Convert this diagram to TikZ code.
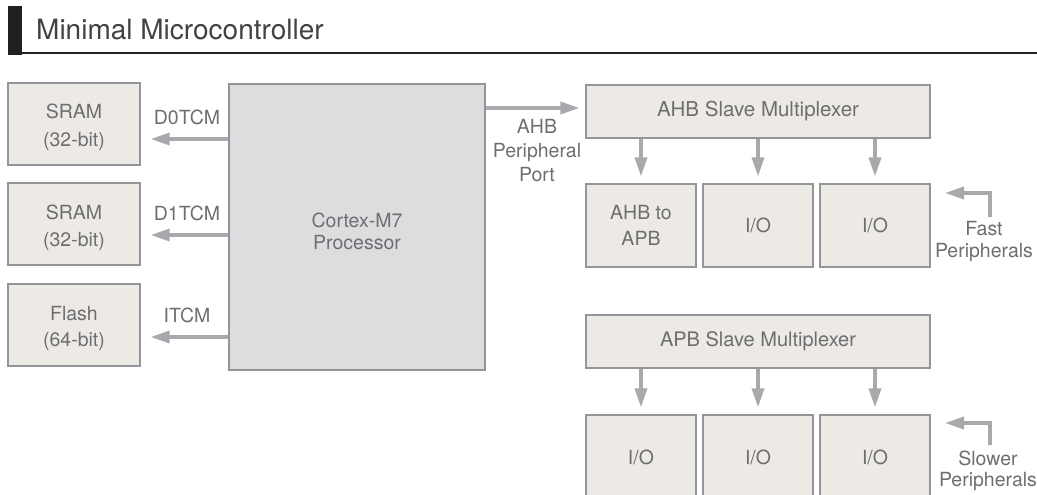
\documentclass[tikz,border=0pt]{standalone}
\usepackage{fontspec}
\setmainfont{TeX Gyre Heros}
\usetikzlibrary{arrows.meta,calc}
\definecolor{boxfill}{HTML}{EDEAE5}
\definecolor{cpufill}{HTML}{DCDDDE}
\definecolor{boxline}{HTML}{939598}
\definecolor{txt}{HTML}{6D6E71}
\definecolor{arrowc}{HTML}{A7A9AC}
\definecolor{titlec}{HTML}{231F20}
\tikzset{
  box/.style={draw=boxline, fill=boxfill, line width=1.2pt, inner sep=0pt, align=center,
    text=txt, font=\fontsize{19.5}{26}\selectfont},
  cpubox/.style={box, fill=cpufill},
  lbl/.style={text=txt, align=center, inner sep=0pt, font=\fontsize{19.5}{24}\selectfont},
  boxlbl/.style={text=txt, align=center, inner sep=0pt, font=\fontsize{19.5}{26}\selectfont},
  arr/.style={draw=arrowc, line width=3.5pt, -{Triangle[length=19pt,width=12pt]}},
}
\begin{document}
\begin{tikzpicture}[x=1pt,y=-1pt]
\clip (0,0) rectangle (1037,495);
\fill[white] (0,0) rectangle (1037,495);
% title
\fill[titlec] (8,6) rectangle (22,55);
\draw[titlec, line width=2pt] (22,53.5) -- (1037,53.5);
\node[anchor=base west, inner sep=0pt, text=titlec!85, font=\fontsize{28}{30}\selectfont] (title) at (36,40) {Minimal Microcontroller};
% memories
\node[box, minimum width=132, minimum height=82] (sram0) at (74,124) {};
\node[boxlbl, font=\fontsize{19.5}{28}\selectfont] (sram0t) at ($(sram0.center)+(0,3.5)$) {SRAM\\(32-bit)};
\node[box, minimum width=132, minimum height=82] (sram1) at (74,224) {};
\node[boxlbl, font=\fontsize{19.5}{27}\selectfont] (sram1t) at ($(sram1.center)+(0,3.5)$) {SRAM\\(32-bit)};
\node[box, minimum width=132, minimum height=82] (flash) at (74,325) {};
\node[boxlbl] (flasht) at ($(flash.center)+(0,3)$) {Flash\\(64-bit)};
% cpu
\node[cpubox, minimum width=256, minimum height=286] (cpu) at (357,227) {};
\node[boxlbl, font=\fontsize{19.5}{22}\selectfont] (cput) at ($(cpu.center)+(0,4)$) {Cortex-M7\\Processor};
% TCM arrows
\coordinate (a0) at (0,139);
\coordinate (a1) at (0,235);
\coordinate (a2) at (0,337);
\draw[arr, shorten >=10pt] (cpu.west |- a0) -- (sram0.east |- a0);
\draw[arr, shorten >=10pt] (cpu.west |- a1) -- (sram1.east |- a1);
\draw[arr, shorten >=10pt] (cpu.west |- a2) -- (flash.east |- a2);
\node[lbl] (l0) at (187,117) {D0TCM};
\node[lbl] (l1) at (187,213) {D1TCM};
\node[lbl] (l2) at (187,315) {ITCM};
% AHB mux
\node[box, minimum width=344, minimum height=53, font=\fontsize{20.5}{26}\selectfont] (ahbmux) at (758,111.5) {AHB Slave Multiplexer};
\coordinate (ap) at (0,108);
\draw[arr, shorten >=6pt] (cpu.east |- ap) -- (ahbmux.west |- ap);
\node[lbl] (apl) at (537,151) {AHB\\Peripheral\\Port};
% fast peripherals
\node[box, minimum width=110, minimum height=83] (ahbapb) at (641,225.5) {AHB to\\APB};
\node[box, minimum width=110, minimum height=83] (fio1) at (758,225.5) {I/O};
\node[box, minimum width=110, minimum height=83] (fio2) at (875,225.5) {I/O};
\foreach \n in {ahbapb,fio1,fio2} {
  \draw[arr, shorten >=7pt] (ahbmux.south -| \n.north) -- (\n.north);
}
\coordinate (fs) at (990,217);
\coordinate (fc) at (990,193);
\coordinate (fe) at (945,193);
\draw[arr] (fs) -- (fc) -- (fe);
\node[lbl, font=\fontsize{19.5}{22}\selectfont] (fl) at (984,242) {Fast\\Peripherals};
% APB mux
\node[box, minimum width=344, minimum height=53, font=\fontsize{20}{26}\selectfont] (apbmux) at (758,341.5) {APB Slave Multiplexer};
\node[box, minimum width=110, minimum height=90] (sio1) at (641,460) {};
\node[box, minimum width=110, minimum height=90] (sio2) at (758,460) {};
\node[box, minimum width=110, minimum height=90] (sio3) at (875,460) {};
\node[boxlbl] (sio1t) at (641,457) {I/O};
\node[boxlbl] (sio2t) at (758,457) {I/O};
\node[boxlbl] (sio3t) at (875,457) {I/O};
\foreach \n in {sio1,sio2,sio3} {
  \draw[arr, shorten >=7pt] (apbmux.south -| \n.north) -- (\n.north);
}
\coordinate (ss) at (990,445);
\coordinate (sc) at (990,423);
\coordinate (se) at (945,423);
\draw[arr] (ss) -- (sc) -- (se);
\node[lbl, font=\fontsize{19.5}{21}\selectfont] (sl) at (988,471) {Slower\\Peripherals};
\end{tikzpicture}
\end{document}
